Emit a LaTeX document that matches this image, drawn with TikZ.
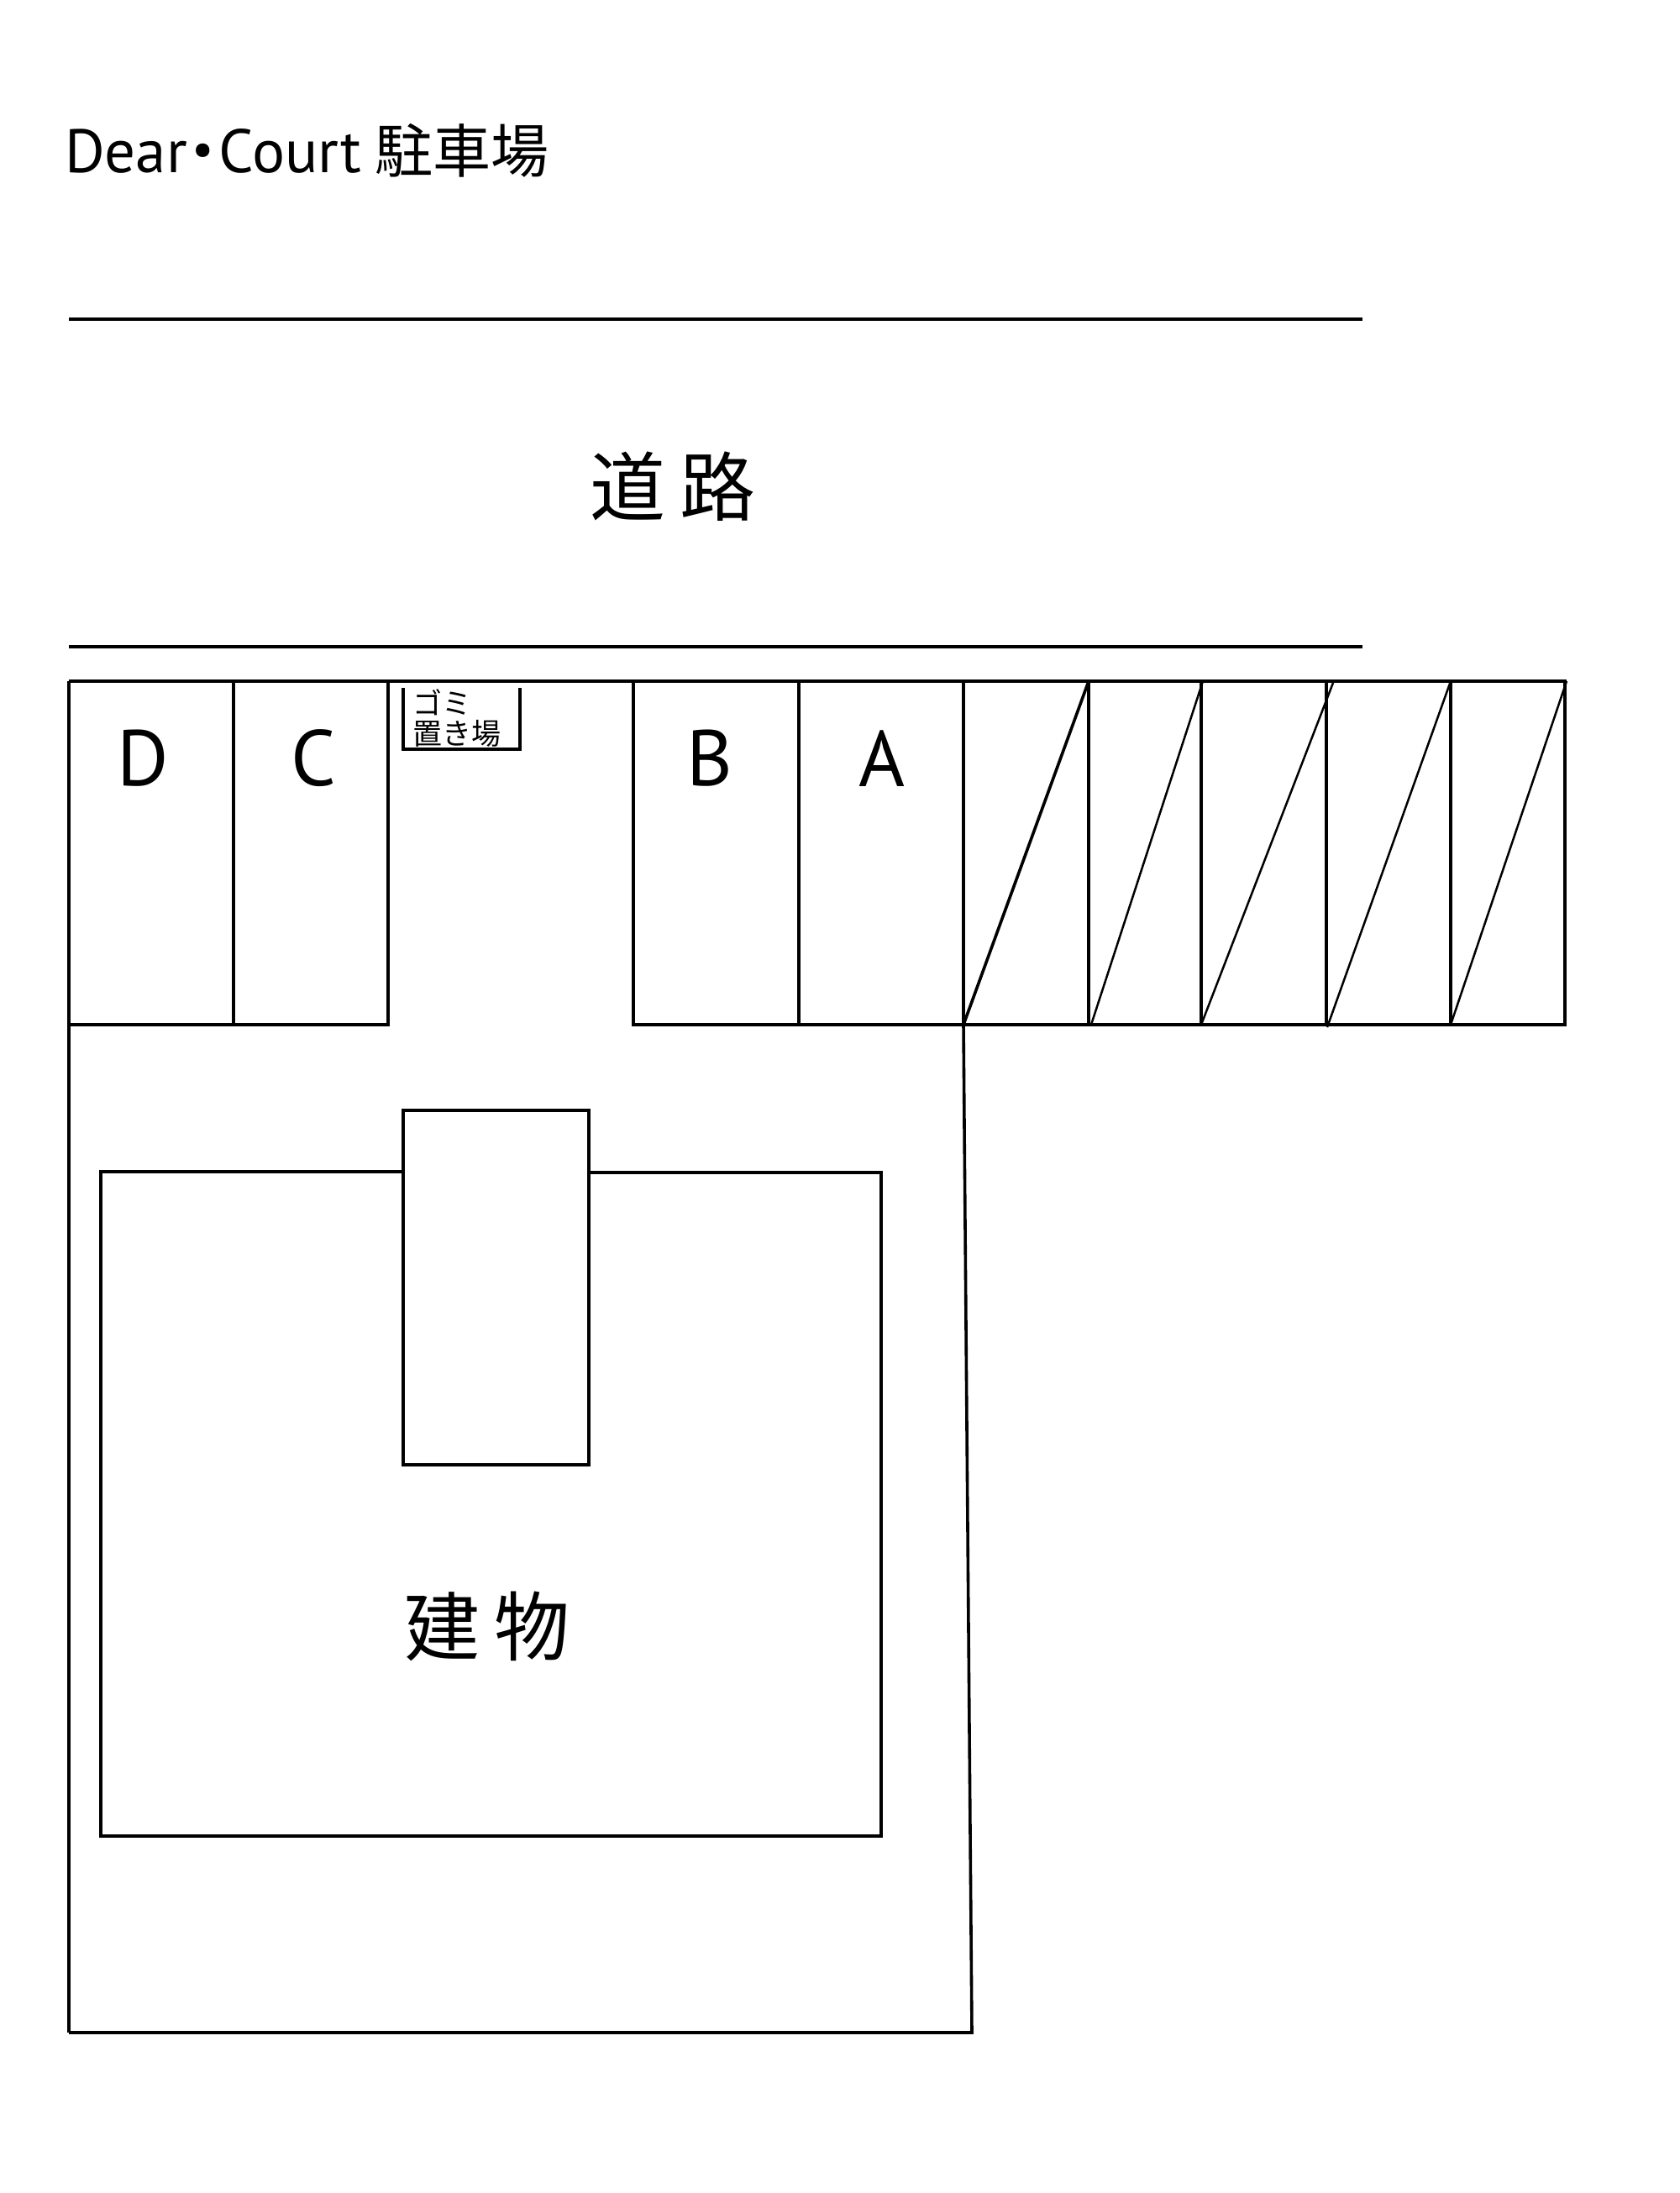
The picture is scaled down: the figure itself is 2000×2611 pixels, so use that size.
\documentclass[tikz,border=0pt]{standalone}
\usepackage{fontspec}
\setmainfont{PT Sans}
\newfontfamily\cjk{Noto Sans CJK JP}
\begin{document}
\begin{tikzpicture}[x=0.5pt,y=-0.5pt,
  wall/.style={draw=black,line width=1.8pt,line join=miter},
  hatchline/.style={draw=black,line width=1.25pt},
  txt/.style={inner sep=0pt,outer sep=0pt,text=black}]
\useasboundingbox (0,0) rectangle (2000,2611);
% title
\node[txt,anchor=base west,font=\fontsize{36.5}{36.5}\selectfont] (title) at (77,206) {Dear\raisebox{.12em}{\kern.08em\scalebox{.8}{\textbullet}\kern.08em}Court\kern.22em{\cjk\fontsize{34.5}{34.5}\selectfont 駐車場}};
% road
\coordinate (r1a) at (82,380); \coordinate (r1b) at (1622,380);
\coordinate (r2a) at (82,770); \coordinate (r2b) at (1622,770);
\draw[wall] (r1a) -- (r1b);
\draw[wall] (r2a) -- (r2b);
\node[txt,font=\cjk\fontsize{45}{45}\selectfont] (road) at (801,579) {道\kern.2em 路};
% parking band
\coordinate (tl) at (82,811); \coordinate (tr) at (1863,811);
\draw[wall] (tl) -- (tr) -- (1863,1220) -- (754,1220) -- (754,811);
\draw[wall] (82,2420) -- (tl);
\draw[wall] (82,1220) -- (462,1220) -- (462,811);
\draw[wall] (278,811) -- (278,1220);
\draw[wall] (951,811) -- (951,1220);
\draw[wall] (1147,811) -- (1147,1220);
\draw[wall] (1296,811) -- (1296,1220);
\draw[wall] (1430,811) -- (1430,1220);
\draw[wall] (1579,811) -- (1579,1220);
\draw[wall] (1727,811) -- (1727,1220);
% hatching
\draw[wall] (1147,1220) -- (1296,811);
\draw[hatchline] (1299,1220) -- (1432,811);
\draw[hatchline] (1430,1220) -- (1587,813);
\draw[hatchline] (1580,1223) -- (1727,811);
\draw[hatchline] (1727,1220) -- (1865,811);
% labels
\node[txt,font=\fontsize{47}{47}\selectfont] (D) at (170,903) {D};
\node[txt,font=\fontsize{47}{47}\selectfont] (C) at (373,903) {C};
\node[txt,font=\fontsize{47}{47}\selectfont] (B) at (845,903) {B};
\node[txt,font=\fontsize{47}{47}\selectfont] (A) at (1050,903) {A};
% rubbish
\draw[wall] (480,819) -- (480,892) -- (619,892) -- (619,819);
\node[txt,anchor=west,font=\cjk\fontsize{17.5}{17.5}\selectfont] (g1) at (491,836) {ゴミ};
\node[txt,anchor=west,font=\cjk\fontsize{17.5}{17.5}\selectfont] (g2) at (491,873) {置き場};
% site
\draw[wall] (82,2420) -- (1157,2420) -- (1147,1220);
% building
\draw[wall] (480,1395) -- (120,1395) -- (120,2186) -- (1049,2186) -- (1049,1396) -- (701,1396);
\draw[wall] (480,1322) rectangle (701,1744);
\node[txt,font=\cjk\fontsize{45}{45}\selectfont] (bld) at (580,1936) {建\kern.2em 物};
\end{tikzpicture}
\end{document}
